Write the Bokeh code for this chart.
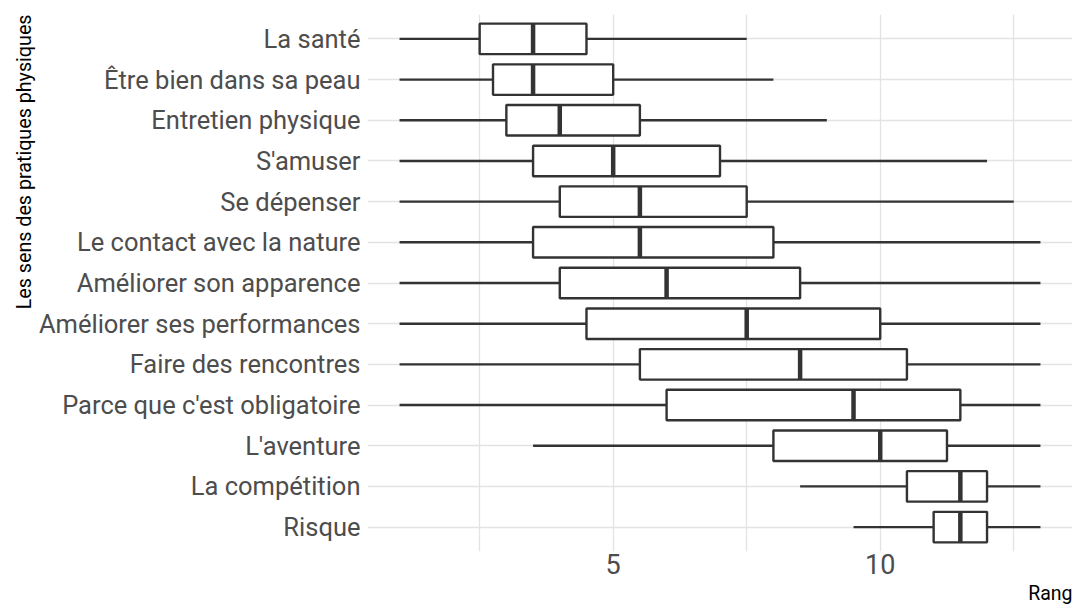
from bokeh.plotting import figure
from bokeh.models import FactorRange, Range1d, FixedTicker, Title, ColumnDataSource
from bokeh.embed import file_html
from bokeh.resources import INLINE

categories = ["La santé", "Être bien dans sa peau", "Entretien physique", "S'amuser",
              "Se dépenser", "Le contact avec la nature", "Améliorer son apparence",
              "Améliorer ses performances", "Faire des rencontres",
              "Parce que c'est obligatoire", "L'aventure", "La compétition", "Risque"]
whisker_low = [1, 1, 1, 1, 1, 1, 1, 1, 1, 1, 3.5, 8.5, 9.5]
q1 = [2.5, 2.75, 3, 3.5, 4, 3.5, 4, 4.5, 5.5, 6, 8, 10.5, 11]
median = [3.5, 3.5, 4, 5, 5.5, 5.5, 6, 7.5, 8.5, 9.5, 10, 11.5, 11.5]
q3 = [4.5, 5, 5.5, 7, 7.5, 8, 8.5, 10, 10.5, 11.5, 11.25, 12, 12]
whisker_high = [7.5, 8, 9, 12, 12.5, 13, 13, 13, 13, 13, 13, 13, 13]
x_ticks = [5, 10]
x_grid = [2.5, 5, 7.5, 10, 12.5]

src = ColumnDataSource(dict(cat=categories, lo=whisker_low, q1=q1, med=median, q3=q3, hi=whisker_high))

p = figure(frame_width=705, frame_height=537, output_backend="svg", toolbar_location=None,
           y_range=FactorRange(factors=list(reversed(categories)), range_padding=0.1,
                               range_padding_units="absolute"),
           x_range=Range1d(0.4, 13.6),
           min_border_left=367, min_border_right=4, min_border_top=14, min_border_bottom=0)
p.outline_line_color = None
p.background_fill_color = "white"
p.border_fill_color = "white"

grid_col = "#e3e3e3"
p.xgrid.ticker = FixedTicker(ticks=x_grid)
p.xgrid.grid_line_color = grid_col
p.xgrid.grid_line_width = 1.3
p.ygrid.grid_line_color = grid_col
p.ygrid.grid_line_width = 1.3

p.xaxis.ticker = FixedTicker(ticks=x_ticks)
for ax in (p.xaxis, p.yaxis):
    ax.axis_line_color = None
    ax.major_tick_line_color = None
    ax.minor_tick_line_color = None
    ax.major_label_text_font = "Roboto"
    ax.major_label_text_color = "#4d4d4d"
p.yaxis.major_label_text_font_size = "25.5px"
p.xaxis.major_label_text_font_size = "27px"
p.xaxis.major_label_standoff = -4
p.yaxis.major_label_standoff = 1

p.add_layout(Title(text="Les sens des pratiques physiques", align="right", text_font="Roboto",
                   text_font_size="19.7px", text_font_style="normal", text_color="black",
                   standoff=0, offset=0), "left")
p.add_layout(Title(text="Rang", align="right", text_font="Roboto",
                   text_font_size="19.5px", text_font_style="normal", text_color="black",
                   standoff=6, offset=0), "below")

line_col = "#333333"
p.segment(x0="lo", y0="cat", x1="q1", y1="cat", source=src, line_color=line_col, line_width=2.4)
p.segment(x0="q3", y0="cat", x1="hi", y1="cat", source=src, line_color=line_col, line_width=2.4)
p.hbar(y="cat", left="q1", right="q3", height=0.75, source=src,
       fill_color="white", line_color=line_col, line_width=2.4)
p.rect(x="med", y="cat", width=4.5, width_units="screen", height=0.75, source=src,
       fill_color=line_col, line_color=None)

open("out.html", "w").write(file_html(p, INLINE))
